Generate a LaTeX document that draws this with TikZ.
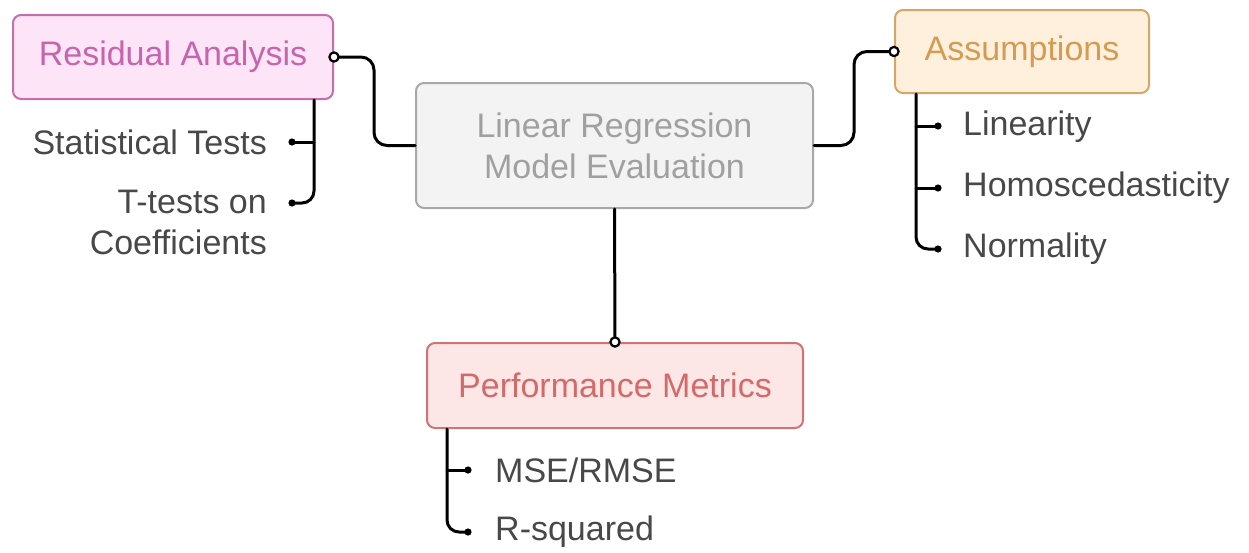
\documentclass[tikz,border=0pt]{standalone}
\usepackage{fontspec}
\setmainfont{Liberation Sans}
\definecolor{rafill}{RGB}{253,228,247}
\definecolor{radraw}{RGB}{196,110,170}
\definecolor{ratext}{RGB}{198,100,172}
\definecolor{lrfill}{RGB}{243,243,243}
\definecolor{lrdraw}{RGB}{168,168,168}
\definecolor{lrtext}{RGB}{160,160,160}
\definecolor{asfill}{RGB}{255,240,222}
\definecolor{asdraw}{RGB}{214,166,104}
\definecolor{astext}{RGB}{212,156,82}
\definecolor{pmfill}{RGB}{253,230,230}
\definecolor{pmdraw}{RGB}{206,116,116}
\definecolor{pmtext}{RGB}{210,106,106}
\definecolor{childtext}{RGB}{72,72,72}
\tikzset{
  x=1pt, y=-1pt,
  box/.style={draw, line width=2pt, rounded corners=8pt, inner sep=0pt, align=center,
    font=\fontsize{34}{41}\selectfont},
  leaf/.style={inner sep=0pt, text=childtext, font=\fontsize{34}{41}\selectfont},
  conn/.style={line width=3pt, black, line cap=round},
  hub/.style={draw=black, fill=white, line width=2.2pt},
}
\begin{document}
\begin{tikzpicture}
\useasboundingbox (0,0) rectangle (1249,552);
% main boxes
\node[box, fill=rafill, draw=radraw, text=ratext, minimum width=320pt, minimum height=84pt] (ra) at (173,57) {Residual Analysis};
\node[box, fill=lrfill, draw=lrdraw, text=lrtext, minimum width=397pt, minimum height=125pt] (lr) at (614.5,145.5) {Linear Regression\\Model Evaluation};
\node[box, fill=asfill, draw=asdraw, text=astext, minimum width=254pt, minimum height=83pt] (as) at (1022,51.5) {Assumptions};
\node[box, fill=pmfill, draw=pmdraw, text=pmtext, minimum width=376pt, minimum height=85pt] (pm) at (615,385.5) {Performance Metrics};

% leaves
\node[leaf, anchor=east] (st) at (267,142) {Statistical Tests};
\node[leaf, anchor=base east, align=right] (tt) at (267,254) {T-tests on\\Coefficients};
\node[leaf, anchor=west] (li) at (963,127) {Linearity};
\node[leaf, anchor=west] (ho) at (963,188) {Homoscedasticity};
\node[leaf, anchor=west] (no) at (963,249) {Normality};
\node[leaf, anchor=west] (ms) at (495,470) {MSE/RMSE};
\node[leaf, anchor=west] (rs) at (495,532) {R-squared};

% dot coordinates
\coordinate (std) at (292,142);
\coordinate (ttd) at (292,203);
\coordinate (lid) at (938,126);
\coordinate (hod) at (938,188);
\coordinate (nod) at (938,249);
\coordinate (msd) at (468,470);
\coordinate (rsd) at (468,532);

% trunks
\coordinate (rat) at ([xshift=-20pt]ra.south east);
\coordinate (ast) at ([xshift=22pt]as.south west);
\coordinate (pmt) at ([xshift=21pt]pm.south west);

% main connectors
\draw[conn, rounded corners=13pt] (ra.east) -- ++(40,0) |- (lr.west);
\draw[conn, rounded corners=13pt] (lr.east) -- ++(40,0) |- (as.west);
\draw[conn] (lr.south) -- (pm.north);

% branches
\draw[conn, rounded corners=12pt] (rat) |- (ttd);
\draw[conn] (rat |- std) -- (std);
\draw[conn, rounded corners=12pt] (ast) |- (nod);
\draw[conn] (ast |- lid) -- (lid);
\draw[conn] (ast |- hod) -- (hod);
\draw[conn, rounded corners=12pt] (pmt) |- (rsd);
\draw[conn] (pmt |- msd) -- (msd);

% dots
\foreach \d in {std,ttd,lid,hod,nod,msd,rsd} \fill (\d) circle (3.6pt);
% hubs
\draw[hub] (ra.east) circle (4.6pt);
\draw[hub] (as.west) circle (4.6pt);
\draw[hub] (pm.north) circle (4.6pt);
\end{tikzpicture}
\end{document}
